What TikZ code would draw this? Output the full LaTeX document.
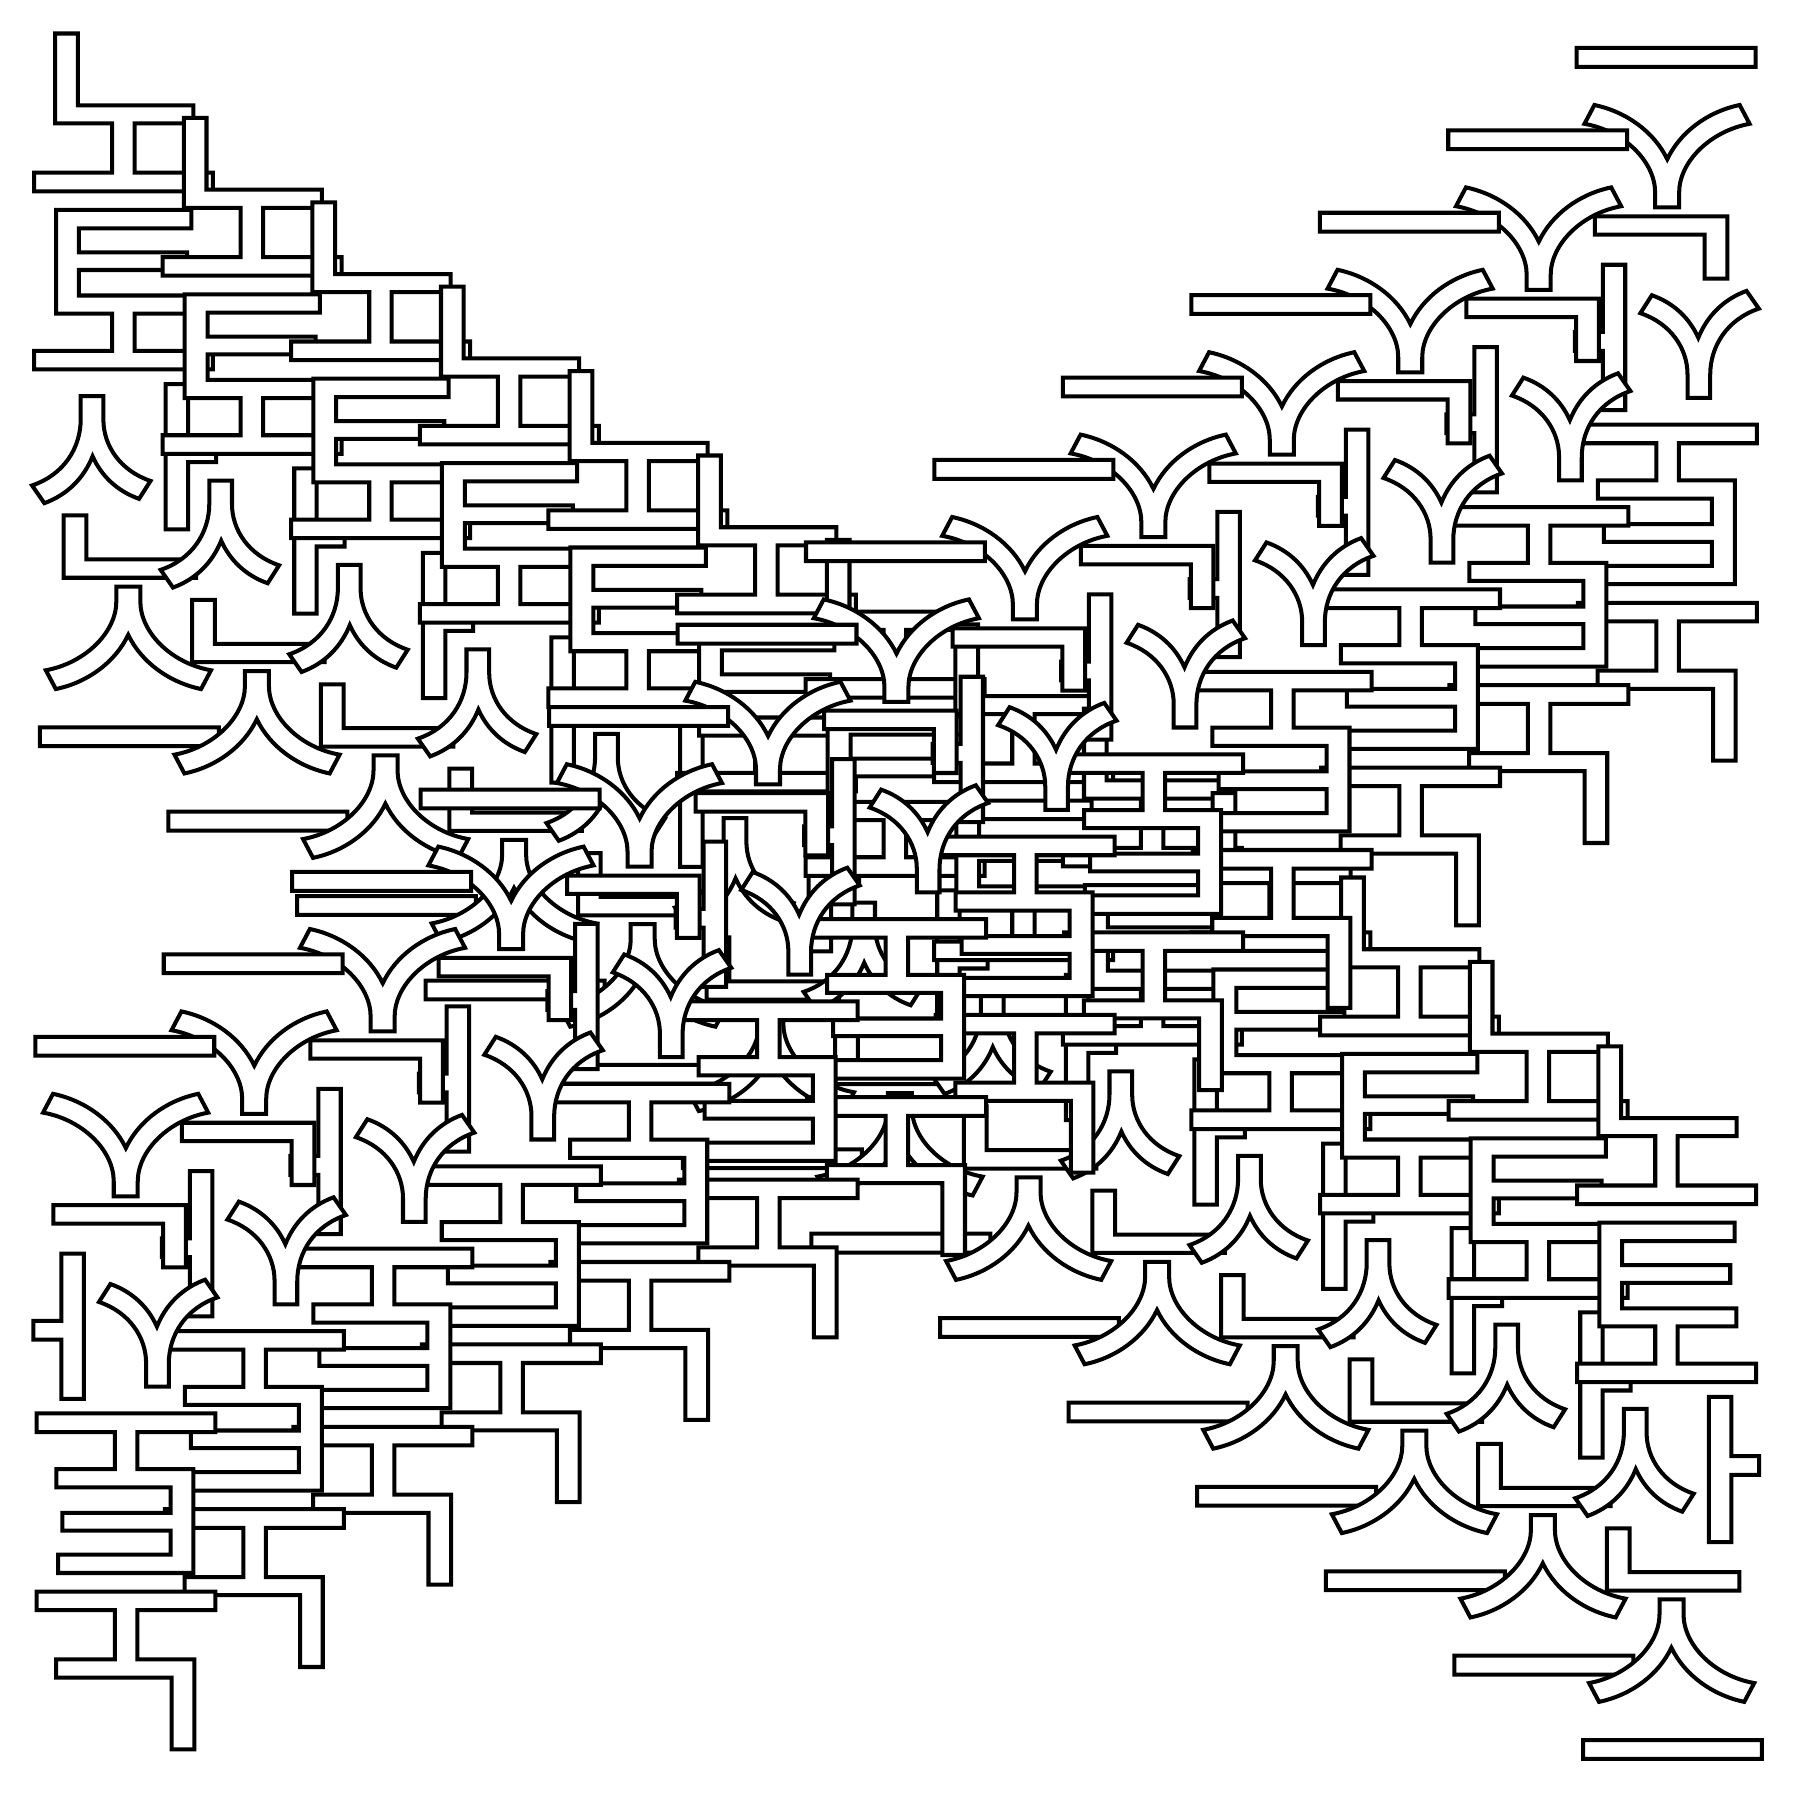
\documentclass[tikz,border=0pt]{standalone}
\usepackage{fontspec}
\usepackage{tikz}
\newfontfamily\notokr{Noto Sans CJK KR Medium}
\newcommand{\notocol}[1]{노\\[-1.5pt]토\\[1.8pt]산\\[2pt]\hspace*{#1}스}

\begin{document}
\begin{tikzpicture}[
      textcol/.style={inner sep=0pt, align=center, font=\notokr\fontsize{61.5}{52}\selectfont,
        execute at begin node={\special{pdf:code 2 Tr 1 g 0 G 1.14 w}}}
    ]
      \useasboundingbox (0,0) rectangle (18,18);

      % Falling row, left to right
      \foreach \i in {0,...,12}
        \node[textcol] (fall\i) at ({1.235+1.286*\i},{18-3.936-0.844*\i}) {\notocol{3.3pt}};

      % Rising row, turned over, right to left
      \foreach \i in {12,11,...,0}
        \node[textcol, rotate=180] (rise\i) at ({1.26+1.2845*\i},{18-13.893+0.824*\i}) {\notocol{0.7pt}};

    \end{tikzpicture}
\end{document}
